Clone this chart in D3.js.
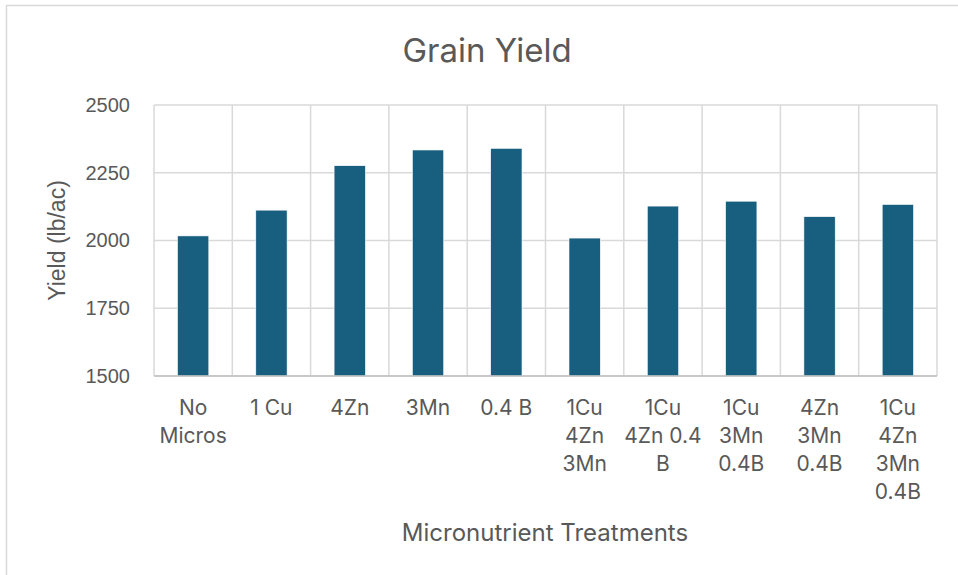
<!DOCTYPE html>
<html>
<head>
<meta charset="utf-8">
<script src="https://cdn.jsdelivr.net/npm/d3@7"></script>
<style>
  body { margin: 0; background: #fff; }
  svg { display: block; font-family: Inter, "Open Sans", sans-serif; }
</style>
</head>
<body>
<div id="chart"></div>
<script>
// ---------------------------------------------------------
// DATA
// ---------------------------------------------------------
const treatments = [
    ["No", "Micros"],
    ["1 Cu"],
    ["4Zn"],
    ["3Mn"],
    ["0.4 B"],
    ["1Cu", "4Zn", "3Mn"],
    ["1Cu", "4Zn 0.4", "B"],
    ["1Cu", "3Mn", "0.4B"],
    ["4Zn", "3Mn", "0.4B"],
    ["1Cu", "4Zn", "3Mn", "0.4B"]
];
const yields = [2017, 2112, 2276, 2334, 2340, 2009, 2127, 2145, 2088, 2133];
const yTicks = [1500, 1750, 2000, 2250, 2500];

// ---------------------------------------------------------
// SETUP
// ---------------------------------------------------------
const width = 958;
const height = 575;
const margin = { top: 105, right: 21, bottom: 199, left: 154 };
const textColor = "#595959";
const gridColor = "#d9d9d9";
const arialLike = "'Liberation Sans', Arial, sans-serif";

const svg = d3.select("#chart")
    .append("svg")
    .attr("width", width)
    .attr("height", height);

// chart frame (runs off the right and bottom edges)
svg.append("rect")
    .attr("x", 6.5).attr("y", 5.5)
    .attr("width", width + 20).attr("height", height + 20)
    .attr("fill", "none")
    .attr("stroke", gridColor)
    .attr("stroke-width", 1.5);

const keys = treatments.map((d, i) => i);

const x = d3.scaleBand()
    .domain(keys)
    .range([margin.left, width - margin.right])
    .paddingInner(0.6)
    .paddingOuter(0.3);

const xCat = d3.scaleBand()
    .domain(keys)
    .range([margin.left, width - margin.right]);

const y = d3.scaleLinear()
    .domain([1500, 2500])
    .range([height - margin.bottom, margin.top]);

// horizontal gridlines
svg.append("g")
    .selectAll("line")
    .data(yTicks)
    .join("line")
    .attr("x1", margin.left).attr("x2", width - margin.right)
    .attr("y1", d => y(d)).attr("y2", d => y(d))
    .attr("stroke", gridColor)
    .attr("stroke-width", 1.5);

// vertical gridlines (category boundaries)
const bounds = keys.map(k => xCat(k)).concat([width - margin.right]);
svg.append("g")
    .selectAll("line")
    .data(bounds)
    .join("line")
    .attr("x1", d => d).attr("x2", d => d)
    .attr("y1", margin.top).attr("y2", height - margin.bottom)
    .attr("stroke", gridColor)
    .attr("stroke-width", 1.5);

// bars
svg.append("g")
    .selectAll("rect")
    .data(yields)
    .join("rect")
    .attr("x", (d, i) => x(i))
    .attr("width", x.bandwidth())
    .attr("y", d => y(d))
    .attr("height", d => y(1500) - y(d))
    .attr("fill", "#175e7f")
    .attr("stroke", "#ffffff")
    .attr("stroke-width", 0.6);

// baseline
svg.append("line")
    .attr("x1", margin.left).attr("x2", width - margin.right)
    .attr("y1", y(1500)).attr("y2", y(1500))
    .attr("stroke", "#bfbfbf")
    .attr("stroke-width", 1.5);

// y axis labels
const yAxis = d3.axisLeft(y)
    .tickValues(yTicks)
    .tickFormat(d3.format("d"))
    .tickSize(0)
    .tickPadding(24);
svg.append("g")
    .attr("transform", `translate(${margin.left},0)`)
    .call(yAxis)
    .call(g => g.select(".domain").remove())
    .selectAll("text")
    .attr("fill", textColor)
    .style("font-size", "20px")
    .style("font-family", arialLike);

// x category labels
const labels = svg.append("g")
    .selectAll("text")
    .data(treatments)
    .join("text")
    .attr("x", (d, i) => xCat(i) + xCat.bandwidth() / 2)
    .attr("y", 415)
    .attr("text-anchor", "middle")
    .attr("fill", textColor)
    .style("font-size", "21px");

labels.selectAll("tspan")
    .data(d => d)
    .join("tspan")
    .attr("x", function() { return d3.select(this.parentNode).attr("x"); })
    .attr("dy", (d, i) => i === 0 ? 0 : 28)
    .text(d => d);

// title
svg.append("text")
    .attr("x", 487)
    .attr("y", 62)
    .attr("text-anchor", "middle")
    .attr("fill", textColor)
    .style("font-size", "33px")
    .text("Grain Yield");

// axis titles
svg.append("text")
    .attr("x", 545)
    .attr("y", 541)
    .attr("text-anchor", "middle")
    .attr("fill", textColor)
    .style("font-size", "24px")
    .text("Micronutrient Treatments");

svg.append("text")
    .attr("transform", `translate(65,${(y(1500) + y(2500)) / 2}) rotate(-90)`)
    .attr("text-anchor", "middle")
    .attr("fill", textColor)
    .style("font-size", "23px")
    .style("font-family", arialLike)
    .text("Yield (lb/ac)");
</script>
</body>
</html>
